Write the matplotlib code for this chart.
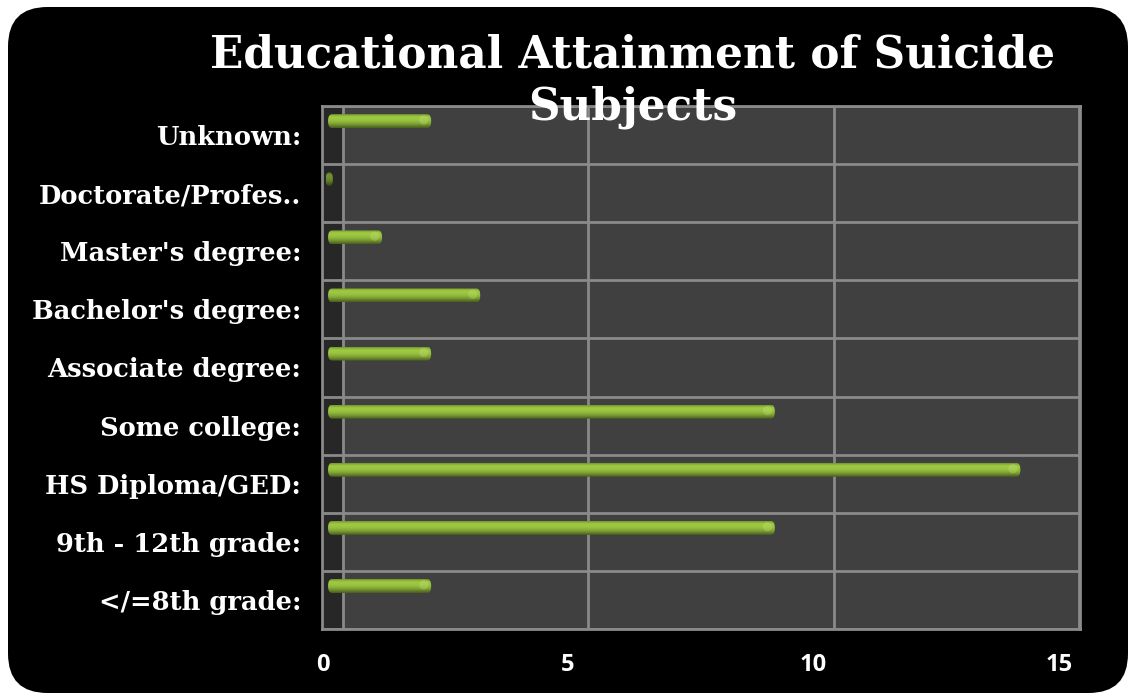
import matplotlib
matplotlib.use("Agg")
import matplotlib.pyplot as plt
import numpy as np
from matplotlib.patches import FancyBboxPatch, Rectangle
from matplotlib.transforms import ScaledTranslation

# Data
categories = ["</=8th grade:", "9th - 12th grade:", "HS Diploma/GED:", "Some college:",
              "Associate degree:", "Bachelor's degree:", "Master's degree:",
              "Doctorate/Profes..", "Unknown:"]
counts = [2, 9, 14, 9, 2, 3, 1, 0, 2]
x_ticks = [0, 5, 10, 15]
title = "Educational Attainment of Suicide\nSubjects"

W, H, DPI = 1128, 693, 100
fig = plt.figure(figsize=(W / DPI, H / DPI), dpi=DPI, facecolor="white")

# Rounded black card behind everything
card = FancyBboxPatch((8 / W, 0), (W - 8) / W, (H - 7) / H,
                      boxstyle="round,pad=0,rounding_size=0.035",
                      transform=fig.transFigure, facecolor="black",
                      edgecolor="none", mutation_aspect=W / H, zorder=-5)
fig.patches.append(card)

# Plot area in pixels: left 322, right 1080, top 106, bottom 629
ax = fig.add_axes([322 / W, 1 - 629 / H, (1080 - 322) / W, (629 - 106) / H])
ax.set_zorder(1)
ax.set_facecolor("#404040")

x_lo, x_hi = -0.173, 15.265
ax.set_xlim(x_lo, x_hi)
ax.set_ylim(-0.5, len(categories) - 0.5)

grid_col = "#8a8a8a"
depth = ScaledTranslation(12.5 / DPI, 0, fig.dpi_scale_trans)

# Darker side wall between frame and the shifted zero gridline
wall = Rectangle((x_lo - 0.3, -0.5), 0.3 - x_lo, len(categories),
                 transform=ax.transData + depth, facecolor="#272727",
                 edgecolor="none", zorder=0.5)
ax.add_patch(wall)

# Vertical gridlines (drawn with depth offset)
for t in x_ticks:
    ax.plot([t, t], [-0.5, len(categories) - 0.5], color=grid_col, lw=2,
            transform=ax.transData + depth, zorder=1)
# Horizontal row separators
for k in range(len(categories) + 1):
    ax.axhline(k - 0.5, color=grid_col, lw=2, zorder=1)

for s in ax.spines.values():
    s.set_color(grid_col)
    s.set_linewidth(2)

# Cylinder-like bars with vertical gradient
bar_h = 0.24
bar_off = 0.24
pad_x = 0.05
grad = np.array([0.78, 0.97, 1.03, 1.02, 1.0, 0.96, 0.9, 0.83, 0.74, 0.62, 0.5]).reshape(-1, 1)
base = np.array([0x9a, 0xc4, 0x40]) / 255.0
img = np.clip(grad[..., None] * base[None, None, :], 0, 1)
img = np.concatenate([img, np.ones(img.shape[:2] + (1,))], axis=2)

for i, v in enumerate(counts):
    y = i + bar_off
    x0, x1 = -pad_x, v + pad_x
    if v == 0:
        x0, x1 = -0.1, 0.05
    patch = FancyBboxPatch((x0, y - bar_h / 2), x1 - x0, bar_h,
                           boxstyle="round,pad=0,rounding_size=0.08",
                           mutation_aspect=1.5, facecolor="none",
                           edgecolor="none", zorder=3)
    ax.add_patch(patch)
    im = ax.imshow(img if v > 0 else img * np.array([0.72, 0.72, 0.72, 1]),
                   extent=(x0, x1, y - bar_h / 2, y + bar_h / 2),
                   aspect="auto", interpolation="bicubic", zorder=3,
                   origin="upper")
    im.set_clip_path(patch)
    if v > 0:
        # soft highlight near the rounded end
        ax.scatter([v - 0.1], [y + 0.02], s=45, color="#c8e67a", alpha=0.3,
                   edgecolors="none", zorder=4)

ax.set_xlim(x_lo, x_hi)
ax.set_ylim(-0.5, len(categories) - 0.5)

# Tick labels
ax.set_yticks(range(len(categories)))
ax.set_yticklabels(categories, fontfamily="DejaVu Serif", fontweight="bold",
                   fontsize=18.5, color="white")
ax.set_xticks(x_ticks)
ax.set_xticklabels([str(t) for t in x_ticks], fontfamily="Open Sans",
                   fontweight="bold", fontsize=17, color="white")
ax.tick_params(axis="both", length=0)
ax.tick_params(axis="y", pad=15)
ax.tick_params(axis="x", pad=17)
shift = ScaledTranslation(-8 / DPI, 0, fig.dpi_scale_trans)
for lab in ax.get_xticklabels():
    lab.set_transform(lab.get_transform() + shift)

fig.text(633 / W, 1 - 33 / H, title, ha="center", va="top",
         fontfamily="DejaVu Serif", fontweight="bold", fontsize=31.5,
         color="white", linespacing=1.28, zorder=10)

fig.savefig("out.png", dpi=DPI, facecolor="white")
